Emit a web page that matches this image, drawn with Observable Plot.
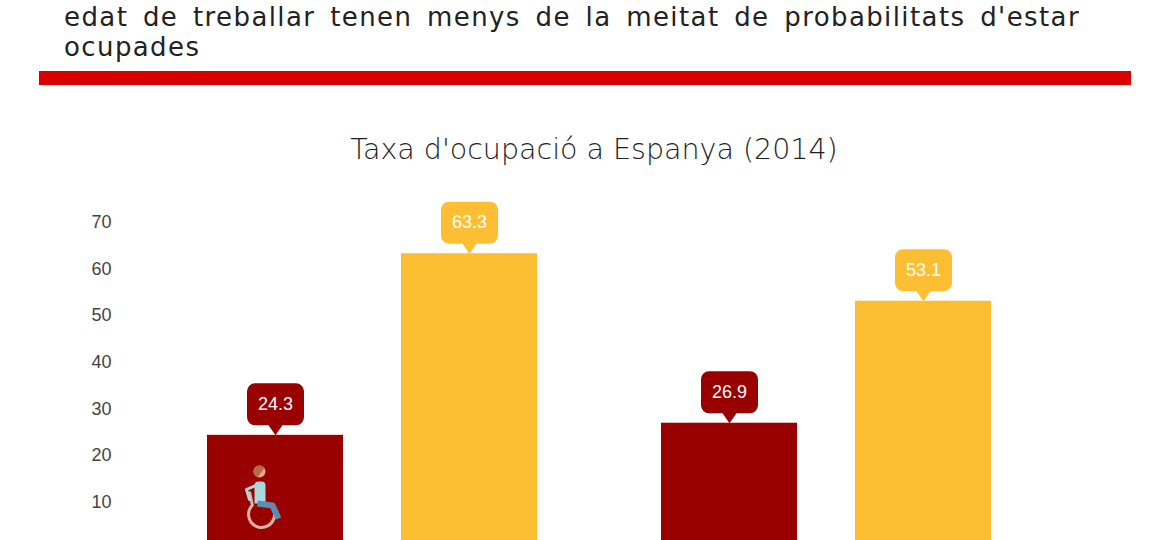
<!DOCTYPE html>
<html>
<head>
<meta charset="utf-8">
<script src="https://cdn.jsdelivr.net/npm/d3@7"></script>
<script src="https://cdn.jsdelivr.net/npm/@observablehq/plot@0.6"></script>
<style>
  body { margin: 0; background: #fff; width: 1170px; height: 540px; overflow: hidden; position: relative; font-family: "DejaVu Sans", sans-serif; }
  #chart { position: absolute; left: 0; top: 0; }
  .hl { position: absolute; left: 64px; width: 1016px; font-size: 26px; line-height: 30px; color: #222; white-space: nowrap; font-weight: 400; letter-spacing: 1.4px; }
  #hl1 { top: 2px; text-align: justify; text-align-last: justify; white-space: normal; }
  #hl2 { top: 32px; }
  #rule { position: absolute; left: 39px; top: 71px; width: 1092px; height: 14px; background: #d90000; }
  #title { position: absolute; left: 0; top: 134px; width: 1188px; text-align: center; font-size: 28.5px; line-height: 32px; color: #1e1e1e; font-weight: 300; }
</style>
</head>
<body>
<div id="chart"></div>
<div class="hl" id="hl1">edat de treballar tenen menys de la meitat de probabilitats d'estar</div>
<div class="hl" id="hl2">ocupades</div>
<div id="rule"></div>
<div id="title">Taxa d'ocupació a Espanya (2014)</div>
<script>
// ---- data ----
const groups = ["Grup 1", "Grup 2"];
const series = ["Amb discapacitat", "Sense discapacitat"];
const values1 = [24.3, 63.3];   // group 1
const values2 = [26.9, 53.1];   // group 2
const colors = ["#990000", "#fcbf33"];
const yTicks = [0, 10, 20, 30, 40, 50, 60, 70];

const rows = [];
[values1, values2].forEach((vals, gi) => {
  vals.forEach((v, si) => rows.push({group: groups[gi], series: series[si], value: v}));
});
const iconRows = [{group: groups[0], series: series[0]}];

// ---- custom symbols ----
const callout = {
  draw(c) {
    const w = 28.5, h = 42, r = 8, ph = 10, pw = 7;
    const b = -ph, t = -ph - h;
    c.moveTo(0, 0);
    c.lineTo(-pw, b);
    c.lineTo(-w + r, b);
    c.arcTo(-w, b, -w, b - r, r);
    c.lineTo(-w, t + r);
    c.arcTo(-w, t, -w + r, t, r);
    c.lineTo(w - r, t);
    c.arcTo(w, t, w, t + r, r);
    c.lineTo(w, b - r);
    c.arcTo(w, b, w - r, b, r);
    c.lineTo(pw, b);
    c.closePath();
  }
};
const wheel = {
  draw(c) {
    const cx = -14, cy = -34, r = 13, a0 = -0.35, a1 = 3.93;
    c.moveTo(cx + r * Math.cos(a0), cy + r * Math.sin(a0));
    c.arc(cx, cy, r, a0, a1);
    c.lineTo(-26, -57);
  }
};
const torso = {
  draw(c) {
    c.moveTo(-21, -45);
    c.lineTo(-21, -63);
    c.arcTo(-21, -67, -17, -67, 4);
    c.lineTo(-14, -67);
    c.arcTo(-10, -67, -10, -63, 4);
    c.lineTo(-10, -45);
    c.closePath();
  }
};
const arm = {
  draw(c) {
    c.moveTo(-20, -63);
    c.lineTo(-29, -59);
    c.lineTo(-26, -49);
  }
};
const pants = {
  draw(c) {
    c.moveTo(-18, -45);
    c.lineTo(-3, -43);
    c.lineTo(3, -30);
  }
};
const head = {
  draw(c) {
    c.moveTo(-10, -77);
    c.arc(-16, -77, 6, 0, Math.PI * 2);
  }
};
const hair = {
  draw(c) {
    const a0 = Math.PI * 0.6, a1 = Math.PI * 1.8;
    c.moveTo(-16 + 6 * Math.cos(a0), -77 + 6 * Math.sin(a0));
    c.arc(-16, -77, 6, a0, a1);
    c.closePath();
  }
};

const iconOpts = {fx: "group", x: "series", frameAnchor: "bottom", r: 10};

const chart = Plot.plot({
  width: 1170,
  height: 600,
  marginTop: 222,
  marginBottom: 52,
  marginLeft: 206,
  marginRight: 178,
  style: {background: "none", color: "#444", fontFamily: "'Liberation Sans', Arial, sans-serif", fontSize: "18px", overflow: "visible"},
  fx: {domain: groups, paddingInner: 0.27, paddingOuter: 0, axis: null, label: null},
  x: {domain: series, paddingInner: 0.3, paddingOuter: 0, axis: null, label: null},
  y: {domain: [0, 70], ticks: yTicks, tickSize: 0, tickPadding: 95, label: null},
  color: {domain: series, range: colors},
  marks: [
    Plot.barY(rows, {fx: "group", x: "series", y: "value", fill: "series"}),
    Plot.dot(rows, {fx: "group", x: "series", y: "value", symbol: callout, fill: "series", stroke: "none", r: 10}),
    Plot.text(rows, {fx: "group", x: "series", y: "value", text: d => d.value.toFixed(1), dy: -31, fill: "#fff", fontSize: 18}),
    Plot.dot(iconRows, {...iconOpts, symbol: wheel, fill: "none", stroke: "#dcb3aa", strokeWidth: 3}),
    Plot.dot(iconRows, {...iconOpts, symbol: torso, fill: "#a9d9dc", stroke: "none"}),
    Plot.dot(iconRows, {...iconOpts, symbol: arm, fill: "none", stroke: "#a9d9dc", strokeWidth: 3, strokeLinecap: "round", strokeLinejoin: "round"}),
    Plot.dot(iconRows, {...iconOpts, symbol: pants, fill: "none", stroke: "#5a8db0", strokeWidth: 6, strokeLinejoin: "round"}),
    Plot.dot(iconRows, {...iconOpts, symbol: head, fill: "#e8a682", stroke: "none"}),
    Plot.dot(iconRows, {...iconOpts, symbol: hair, fill: "#b8694a", stroke: "none"})
  ]
});
document.getElementById("chart").appendChild(chart);
</script>
</body>
</html>
